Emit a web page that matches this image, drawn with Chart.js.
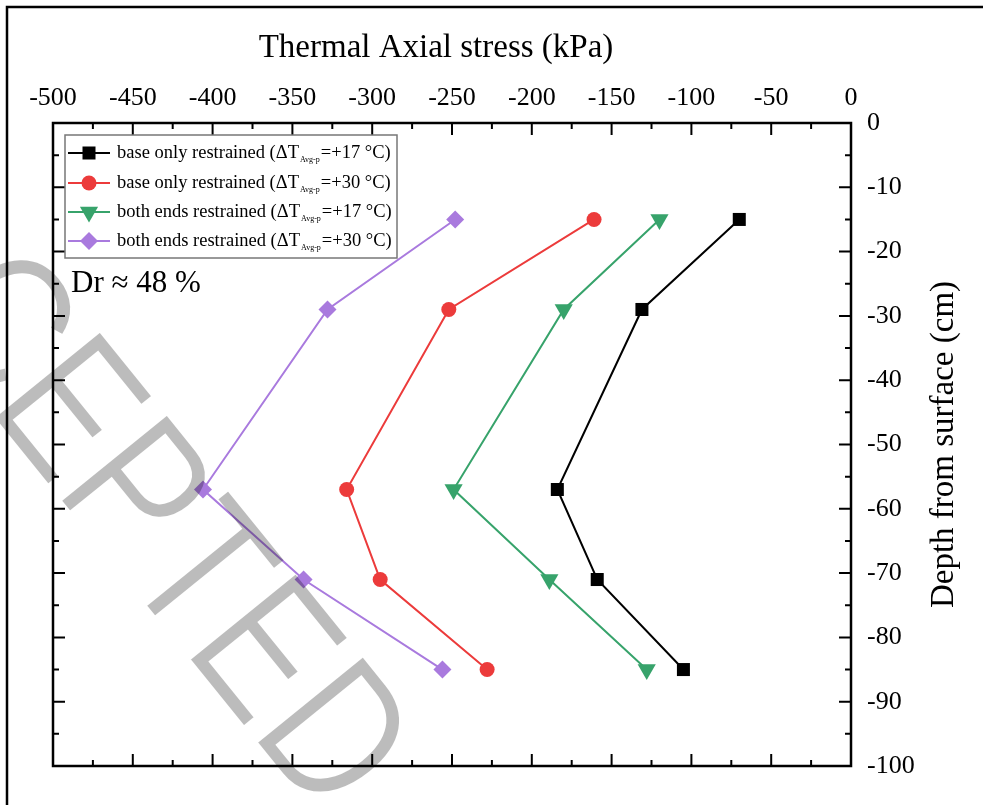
<!DOCTYPE html>
<html>
<head>
<meta charset="utf-8">
<script src="https://cdn.jsdelivr.net/npm/chart.js@4.4.1/dist/chart.umd.min.js"></script>
<style>
  html, body { margin: 0; padding: 0; background: #fff; }
</style>
</head>
<body>
<canvas id="stressChart" width="983" height="805"></canvas>
<script>
// depth of each gauge (cm)
const depth = [-15, -29, -57, -71, -85];

// thermal axial stress (kPa)
const baseOnly17 = [-70, -131, -184, -159, -105];
const baseOnly30 = [-161, -252, -316, -295, -228];
const bothEnds17 = [-120, -180, -249, -189, -128];
const bothEnds30 = [-248, -328, -406, -343, -256];

// axis ticks
const stressTicks = [-500, -450, -400, -350, -300, -250, -200, -150, -100, -50, 0];
const depthTicks = [0, -10, -20, -30, -40, -50, -60, -70, -80, -90, -100];

// legend pieces: text, subscript, rest
const legendMain = ['base only restrained (\u0394T', 'base only restrained (\u0394T',
  'both ends restrained (\u0394T', 'both ends restrained (\u0394T'];
const legendSub = ['Avg-p', 'Avg-p', 'Avg-p', 'Avg-p'];
const legendTail = ['=+17 \u00B0C)', '=+30 \u00B0C)', '=+17 \u00B0C)', '=+30 \u00B0C)'];

const colors = ['#000000', '#ec3b3b', '#37a36b', '#a97ade'];
const serif = '"Liberation Serif", "Times New Roman", serif';

function toPoints(values) {
  return values.map((v, i) => ({ x: v, y: depth[i] }));
}

function makeSet(values, i, style, radius, rotation) {
  return {
    label: legendMain[i] + legendSub[i] + legendTail[i],
    data: toPoints(values),
    showLine: true,
    borderColor: colors[i],
    backgroundColor: colors[i],
    borderWidth: 2,
    pointStyle: style,
    pointRadius: radius,
    pointHoverRadius: radius,
    pointRotation: rotation,
    pointBorderWidth: 0
  };
}

// grey "ACCEPTED" stamp, drawn on its own canvas and multiplied in
function drawWatermark(ctx) {
  const off = document.createElement('canvas');
  off.width = ctx.canvas.width;
  off.height = ctx.canvas.height;
  const w = off.getContext('2d');
  const size = 200;
  const squeeze = 0.8;
  const ang = 51 * Math.PI / 180;
  w.font = size + 'px "Liberation Sans", Arial, sans-serif';
  const dx = squeeze * (w.measureText('ACCEPTE').width + 0.07 * size);
  w.translate(255 - dx * Math.cos(ang), 741 - dx * Math.sin(ang));
  w.rotate(ang);
  w.scale(squeeze, 1);
  w.fillStyle = '#bcbcbc';
  w.fillText('ACCEPTED', 0, 0);
  // thin the strokes a little
  w.globalCompositeOperation = 'destination-out';
  w.lineWidth = 3;
  w.strokeText('ACCEPTED', 0, 0);
  ctx.save();
  ctx.globalCompositeOperation = 'multiply';
  ctx.drawImage(off, 0, 0);
  ctx.restore();
}

// frame, inward ticks, titles, legend, note and watermark
const decorations = {
  id: 'decorations',
  afterDraw(chart) {
    const ctx = chart.ctx;
    const a = chart.chartArea;
    const xs = chart.scales.x;
    const ys = chart.scales.y;
    ctx.save();

    // outer frame of the figure (right and bottom edges fall outside)
    ctx.strokeStyle = '#000';
    ctx.lineWidth = 2.5;
    ctx.strokeRect(7, 7, 990, 820);

    // plot frame
    ctx.lineWidth = 2.5;
    ctx.strokeRect(a.left, a.top, a.right - a.left, a.bottom - a.top);

    // ticks pointing in
    ctx.lineWidth = 2;
    ctx.beginPath();
    for (let i = 0; i < stressTicks.length; i++) {
      const px = xs.getPixelForValue(stressTicks[i]);
      ctx.moveTo(px, a.top); ctx.lineTo(px, a.top + 12);
      ctx.moveTo(px, a.bottom); ctx.lineTo(px, a.bottom - 12);
      if (i < stressTicks.length - 1) {
        const mx = xs.getPixelForValue((stressTicks[i] + stressTicks[i + 1]) / 2);
        ctx.moveTo(mx, a.top); ctx.lineTo(mx, a.top + 6);
        ctx.moveTo(mx, a.bottom); ctx.lineTo(mx, a.bottom - 6);
      }
    }
    for (let i = 0; i < depthTicks.length; i++) {
      const py = ys.getPixelForValue(depthTicks[i]);
      ctx.moveTo(a.left, py); ctx.lineTo(a.left + 12, py);
      ctx.moveTo(a.right, py); ctx.lineTo(a.right - 12, py);
      if (i < depthTicks.length - 1) {
        const my = ys.getPixelForValue((depthTicks[i] + depthTicks[i + 1]) / 2);
        ctx.moveTo(a.left, my); ctx.lineTo(a.left + 6, my);
        ctx.moveTo(a.right, my); ctx.lineTo(a.right - 6, my);
      }
    }
    ctx.stroke();

    // axis titles
    ctx.fillStyle = '#000';
    ctx.font = '33px ' + serif;
    ctx.textAlign = 'center';
    ctx.textBaseline = 'alphabetic';
    ctx.fillText('Thermal Axial stress (kPa)', 436, 57);
    ctx.save();
    ctx.translate(953, (a.top + a.bottom) / 2);
    ctx.rotate(-Math.PI / 2);
    ctx.fillText('Depth from surface (cm)', 0, 0);
    ctx.restore();

    // legend box
    ctx.fillStyle = '#fff';
    ctx.fillRect(65, 135, 332, 123);
    ctx.strokeStyle = '#777';
    ctx.lineWidth = 1.5;
    ctx.strokeRect(65, 135, 332, 123);
    const rowsY = [153, 183, 212, 241];
    chart.data.datasets.forEach((ds, i) => {
      const y = rowsY[i];
      ctx.strokeStyle = ds.borderColor;
      ctx.fillStyle = ds.backgroundColor;
      ctx.lineWidth = 2;
      ctx.beginPath();
      ctx.moveTo(68, y); ctx.lineTo(110, y);
      ctx.stroke();
      Chart.helpers.drawPoint(ctx, {
        pointStyle: ds.pointStyle, rotation: ds.pointRotation,
        radius: ds.pointRadius, borderWidth: 0
      }, 89, y);
      ctx.fillStyle = '#000';
      ctx.textAlign = 'left';
      ctx.textBaseline = 'middle';
      ctx.font = '18.5px ' + serif;
      let x = 117;
      ctx.fillText(legendMain[i], x, y);
      x += ctx.measureText(legendMain[i]).width;
      ctx.font = '8px ' + serif;
      ctx.fillText(legendSub[i], x + 1, y + 7);
      x += ctx.measureText(legendSub[i]).width + 2;
      ctx.font = '18.5px ' + serif;
      ctx.fillText(legendTail[i], x, y);
    });

    // relative density note
    ctx.font = '31px ' + serif;
    ctx.textAlign = 'left';
    ctx.textBaseline = 'alphabetic';
    ctx.fillText('Dr \u2248 48 %', 71, 292);
    ctx.restore();

    drawWatermark(ctx);
  }
};

new Chart(document.getElementById('stressChart'), {
  type: 'scatter',
  data: {
    datasets: [
      makeSet(baseOnly17, 0, 'rect', 9.2, 0),
      makeSet(baseOnly30, 1, 'circle', 7.5, 0),
      makeSet(bothEnds17, 2, 'triangle', 10.5, 180),
      makeSet(bothEnds30, 3, 'rectRot', 9, 0)
    ]
  },
  options: {
    responsive: false,
    animation: false,
    devicePixelRatio: 1,
    layout: { padding: { left: 53, top: 0, right: 0, bottom: 39 } },
    plugins: {
      legend: { display: false },
      tooltip: { enabled: false }
    },
    scales: {
      x: {
        type: 'linear',
        position: 'top',
        min: -500,
        max: 0,
        afterBuildTicks: s => { s.ticks = stressTicks.map(v => ({ value: v })); },
        afterFit: s => { s.height = 123; },
        grid: { display: false },
        border: { display: false },
        ticks: { color: '#000', font: { family: serif, size: 26 }, padding: 1, maxRotation: 0 }
      },
      y: {
        type: 'linear',
        position: 'right',
        min: -100,
        max: 0,
        afterBuildTicks: s => { s.ticks = depthTicks.map(v => ({ value: v })); },
        afterFit: s => { s.width = 132; },
        grid: { display: false },
        border: { display: false },
        ticks: { color: '#000', font: { family: serif, size: 26 }, padding: 8 }
      }
    }
  },
  plugins: [decorations]
});
</script>
</body>
</html>
